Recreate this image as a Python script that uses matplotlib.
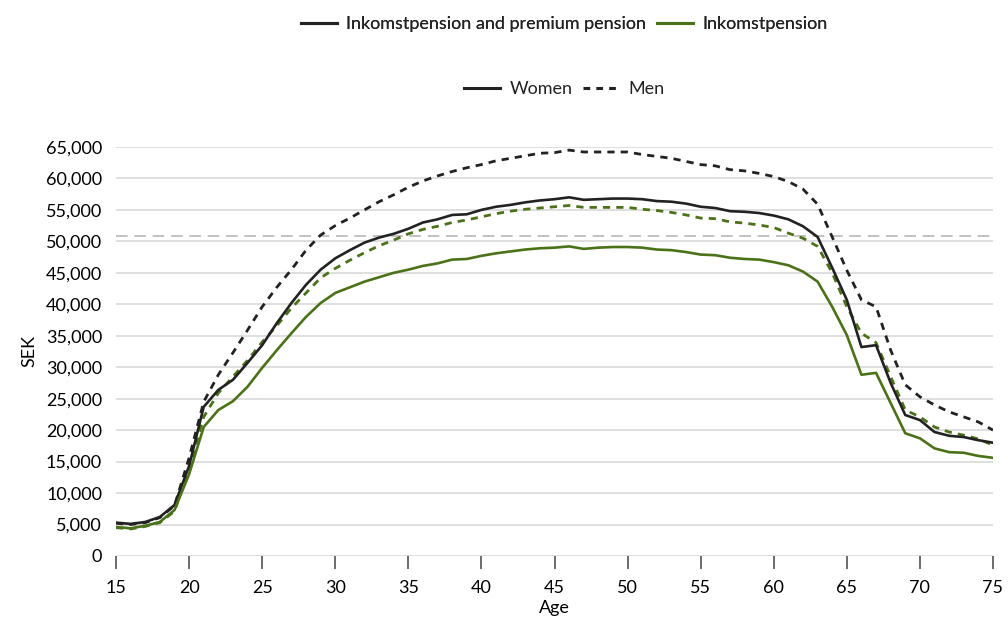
import matplotlib
matplotlib.use("Agg")
import matplotlib.pyplot as plt
from matplotlib.lines import Line2D

# ------------------------------------------------- Data -------------------------------------------------

ages = list(range(15, 76))

total_women = [
    5300, 5100, 5400, 6200, 8100, 14300, 23700, 26400, 28000, 30700,
    33500, 37000, 40200, 43100, 45500, 47300, 48600, 49800, 50600, 51200,
    52000, 53000, 53500, 54200, 54300, 55000, 55500, 55800, 56200, 56500,
    56700, 57000, 56600, 56700, 56800, 56800, 56700, 56400, 56300, 56000,
    55500, 55300, 54800, 54700, 54500, 54100, 53500, 52400, 50700, 45800,
    40700, 33200, 33500, 27500, 22400, 21600, 19700, 19100, 18900, 18400,
    18000,
]

total_men = [
    5200, 5000, 5300, 6100, 8000, 15600, 24500, 28800, 32300, 35900,
    39600, 42700, 45500, 48600, 51000, 52500, 53700, 55000, 56300, 57400,
    58600, 59600, 60400, 61100, 61700, 62200, 62800, 63200, 63600, 64000,
    64100, 64500, 64200, 64200, 64200, 64200, 63800, 63500, 63200, 62700,
    62200, 62000, 61400, 61200, 60800, 60300, 59500, 58300, 55900, 50700,
    45400, 40700, 39600, 32700, 27200, 25300, 24000, 22900, 22100, 21300,
    20000,
]

inkomst_women = [
    4600, 4400, 4800, 5400, 7300, 13000, 20500, 23200, 24600, 26900,
    29900, 32700, 35400, 38000, 40200, 41800, 42700, 43600, 44300, 45000,
    45500, 46100, 46500, 47100, 47200, 47700, 48100, 48400, 48700, 48900,
    49000, 49200, 48800, 49000, 49100, 49100, 49000, 48700, 48600, 48300,
    47900, 47800, 47400, 47200, 47100, 46700, 46200, 45200, 43600, 39600,
    35100, 28800, 29100, 24300, 19500, 18700, 17100, 16500, 16400, 15900,
    15600,
]

inkomst_men = [
    4500, 4300, 4700, 5300, 7100, 13800, 22100, 25900, 28500, 31100,
    34000, 36600, 39400, 41800, 44200, 45700, 47000, 48200, 49300, 50200,
    51200, 51900, 52400, 53000, 53400, 53900, 54400, 54800, 55100, 55300,
    55500, 55700, 55400, 55400, 55400, 55400, 55100, 54900, 54600, 54200,
    53700, 53600, 53100, 52900, 52600, 52200, 51300, 50500, 49200, 45000,
    39600, 35400, 33900, 28500, 23200, 22100, 20500, 19700, 19200, 18600,
    17600,
]

reference_level = 50900

x_ticks = list(range(15, 76, 5))
y_ticks = list(range(0, 65001, 5000))

# ------------------------------------------------- Styling -------------------------------------------------

BLACK = "#222222"
GREEN = "#4b7119"
GRID = "#dcdcdc"

plt.rcParams.update({
    "font.family": ["Lato", "DejaVu Sans"],
    "font.size": 13,
    "text.color": "#222222",
})

fig = plt.figure(figsize=(10.08, 6.17), dpi=100)
ax = fig.add_axes([0.1151, 0.0989, 0.8700, 0.6629])

men_dash = (0, (2.6, 2.2))

ax.plot(ages, total_men, color=BLACK, lw=2.0, linestyle=men_dash, zorder=3)
ax.plot(ages, inkomst_men, color=GREEN, lw=2.0, linestyle=men_dash, zorder=3)
ax.plot(ages, total_women, color=BLACK, lw=1.9, zorder=4)
ax.plot(ages, inkomst_women, color=GREEN, lw=1.9, zorder=4)

ax.axhline(reference_level, color="#b8b8b8", lw=1.2, linestyle=(0, (7, 4)), zorder=2)

ax.set_xlim(15, 75)
ax.set_ylim(0, 65000)
ax.set_xticks(x_ticks)
ax.set_yticks(y_ticks)
ax.set_yticklabels([f"{v:,}" for v in y_ticks])

ax.grid(axis="y", color=GRID, lw=1.3)
ax.set_axisbelow(True)
for side in ["top", "right", "left", "bottom"]:
    ax.spines[side].set_visible(False)

ax.tick_params(axis="y", length=0, pad=10, labelsize=13)
ax.tick_params(axis="x", length=9, width=1.1, color="#444444", pad=8, labelsize=13)

ax.set_xlabel("Age", fontsize=13, labelpad=3)
ax.set_ylabel("SEK", fontsize=13, labelpad=6)

# ------------------------------------------------- Legends -------------------------------------------------

series_handles = [
    Line2D([], [], color=BLACK, lw=2.2),
    Line2D([], [], color=GREEN, lw=2.2),
]
leg1 = fig.legend(
    series_handles,
    ["Inkomstpension and premium pension", "Inkomstpension"],
    loc="center",
    bbox_to_anchor=(0.56, 0.961),
    ncol=2,
    frameon=False,
    fontsize=13,
    handlelength=2.0,
    handletextpad=0.5,
    columnspacing=0.6,
)

sex_handles = [
    Line2D([], [], color=BLACK, lw=2.2),
    Line2D([], [], color=BLACK, lw=2.2, linestyle=(0, (2.2, 2.0))),
]
fig.legend(
    sex_handles,
    ["Women", "Men"],
    loc="center",
    bbox_to_anchor=(0.56, 0.856),
    ncol=2,
    frameon=False,
    fontsize=13,
    handlelength=2.0,
    handletextpad=0.5,
    columnspacing=0.6,
)
fig.add_artist(leg1)

fig.savefig("out.png", dpi=100)
